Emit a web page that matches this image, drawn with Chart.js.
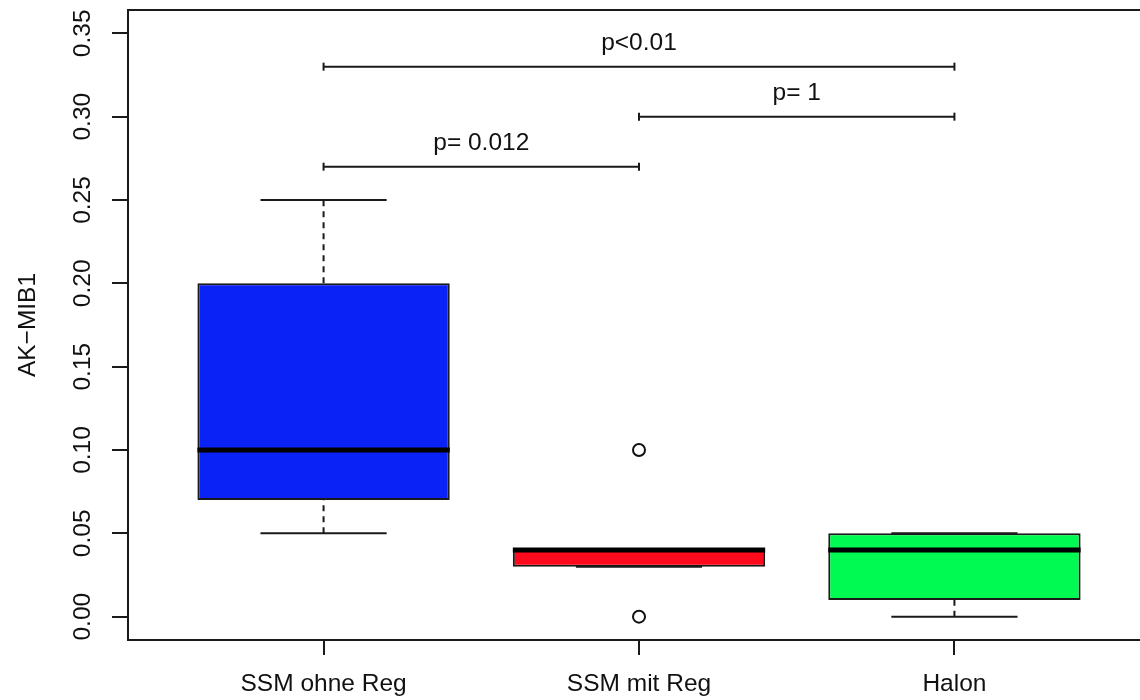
<!DOCTYPE html>
<html><head><meta charset="utf-8">
<script src="https://cdn.jsdelivr.net/npm/chart.js@4.4.1/dist/chart.umd.min.js"></script>
<style>html,body{margin:0;padding:0;background:#fff;overflow:hidden;width:1140px;height:700px}canvas{display:block}</style>
</head><body><canvas id="c" width="1158" height="700"></canvas>
<script>
// ---- data ----
const categories = ['SSM ohne Reg', 'SSM mit Reg', 'Halon'];
const whiskerLow = [0.05, 0.03, 0.00];
const lowerQuartile = [0.07, 0.03, 0.01];
const medianValue = [0.10, 0.04, 0.04];
const upperQuartile = [0.20, 0.04, 0.05];
const whiskerHigh = [0.25, 0.04, 0.05];
const outlierGroup = [2, 2];
const outlierValue = [0.10, 0.00];
const yTickValues = [0.00, 0.05, 0.10, 0.15, 0.20, 0.25, 0.30, 0.35];
const yAxisTitle = 'AK\u2212MIB1';
const yLimits = [0, 0.35];
const xLimits = [0.5, 3.5];
const bracketFrom = [1, 2, 1];
const bracketTo = [2, 3, 3];
const bracketValue = [0.27, 0.30, 0.33];
const bracketLabel = ['p= 0.012', 'p= 1', 'p<0.01'];
const bracketLabelValue = [0.285, 0.315, 0.345];

// ---- styles ----
const boxFill = ['#0A22F5', '#FF0A1C', '#00FA52'];
const ink = '#1a1a1a';
const FONT = '"Liberation Sans", Arial, Helvetica, sans-serif';
const FONT_SIZE = 24.5;
const boxHalf = 0.4, capHalf = 0.2;

const pad = (lim) => (lim[1] - lim[0]) * 0.04;
const yMin = yLimits[0] - pad(yLimits), yMax = yLimits[1] + pad(yLimits);
const xMin = xLimits[0] - pad(xLimits), xMax = xLimits[1] + pad(xLimits);

function segs(list) {
  const out = [];
  list.forEach(([x1, y1, x2, y2]) => {
    out.push({x: x1, y: y1}, {x: x2, y: y2}, {x: x2, y: null});
  });
  return out;
}
const pos = categories.map((_, i) => i + 1);

const medianSegs = segs(pos.map((p, i) => [p - boxHalf, medianValue[i], p + boxHalf, medianValue[i]]));
const capSegs = segs(pos.flatMap((p, i) => [
  [p - capHalf, whiskerLow[i], p + capHalf, whiskerLow[i]],
  [p - capHalf, whiskerHigh[i], p + capHalf, whiskerHigh[i]]
]));
const whiskerSegs = segs(pos.flatMap((p, i) => [
  [p, whiskerLow[i], p, lowerQuartile[i]],
  [p, upperQuartile[i], p, whiskerHigh[i]]
]));
const bracketSegs = segs(bracketFrom.map((f, i) => [f, bracketValue[i], bracketTo[i], bracketValue[i]]));
const outlierPts = outlierGroup.map((g, i) => ({x: g, y: outlierValue[i]}));
const boxPts = pos.map((p, i) => ({x: p, y: [lowerQuartile[i], upperQuartile[i]]}));

const framePlugin = {
  id: 'frame',
  afterDraw(chart) {
    const {ctx, chartArea: a} = chart;
    ctx.save();
    ctx.strokeStyle = ink; ctx.lineWidth = 2;
    ctx.strokeRect(a.left, a.top, a.right - a.left, a.bottom - a.top);
    ctx.restore();
  }
};
const bracketLabelPlugin = {
  id: 'bracketLabels',
  afterDatasetsDraw(chart) {
    const {ctx, scales: {x, y}} = chart;
    ctx.save();
    ctx.font = FONT_SIZE + 'px ' + FONT;
    ctx.fillStyle = '#111';
    ctx.textAlign = 'center';
    ctx.textBaseline = 'middle';
    bracketLabel.forEach((t, i) => {
      ctx.fillText(t, x.getPixelForValue((bracketFrom[i] + bracketTo[i]) / 2), y.getPixelForValue(bracketLabelValue[i]) + 2);
    });
    ctx.restore();
  }
};

new Chart(document.getElementById('c'), {
  type: 'bar',
  data: {
    datasets: [
      {type: 'line', label: 'brackets', order: 0, data: bracketSegs, borderColor: ink, borderWidth: 2,
       pointStyle: 'line', pointRotation: 90, pointRadius: 4, pointHoverRadius: 4, pointBorderWidth: 2, pointBorderColor: ink, spanGaps: false},
      {type: 'line', label: 'outliers', order: 1, data: outlierPts, showLine: false, pointRadius: 6, pointHoverRadius: 6,
       pointBorderWidth: 2, pointBorderColor: '#111', pointBackgroundColor: 'rgba(0,0,0,0)'},
      {type: 'line', label: 'medians', order: 2, data: medianSegs, borderColor: '#000', borderWidth: 5, borderCapStyle: 'butt', pointRadius: 0, spanGaps: false},
      {type: 'line', label: 'caps', order: 3, data: capSegs, borderColor: ink, borderWidth: 2, pointRadius: 0, spanGaps: false},
      {type: 'line', label: 'whiskers', order: 4, data: whiskerSegs, borderColor: ink, borderWidth: 2, borderDash: [6, 5], pointRadius: 0, spanGaps: false},
      {type: 'bar', label: 'boxes', order: 5, data: boxPts, backgroundColor: boxFill, borderColor: ink, borderWidth: 2,
       borderSkipped: false, barPercentage: 0.8, categoryPercentage: 1}
    ]
  },
  options: {
    responsive: false,
    animation: false,
    layout: {padding: {top: 10, right: 2, left: 0, bottom: 0}},
    plugins: {legend: {display: false}, tooltip: {enabled: false}},
    scales: {
      x: {
        type: 'linear', min: xMin, max: xMax, offset: false,
        afterBuildTicks: (s) => { s.ticks = pos.map(v => ({value: v})); },
        afterFit: (s) => { s.height = 60; s.paddingLeft = 0; s.paddingRight = 0; },
        grid: {drawOnChartArea: false, drawTicks: true, tickLength: 15, color: ink, lineWidth: 2, offset: false},
        border: {display: false},
        ticks: {autoSkip: false, maxRotation: 0, minRotation: 0, padding: 15, color: '#111',
                font: {family: FONT, size: FONT_SIZE},
                callback: (v) => categories[Math.round(v) - 1]}
      },
      y: {
        type: 'linear', min: yMin, max: yMax,
        afterBuildTicks: (s) => { s.ticks = yTickValues.map(v => ({value: v})); },
        afterFit: (s) => { s.width = 128; s.paddingTop = 0; s.paddingBottom = 0; },
        grid: {drawOnChartArea: false, drawTicks: true, tickLength: 16, color: ink, lineWidth: 2},
        border: {display: false},
        ticks: {minRotation: 90, maxRotation: 90, crossAlign: 'center', padding: 5, color: '#111',
                font: {family: FONT, size: FONT_SIZE},
                callback: (v) => Number(v).toFixed(2)},
        title: {display: true, text: yAxisTitle, color: '#111', font: {family: FONT, size: FONT_SIZE}, padding: {top: 14, bottom: 0}}
      }
    }
  },
  plugins: [framePlugin, bracketLabelPlugin]
});
</script>
</body></html>
